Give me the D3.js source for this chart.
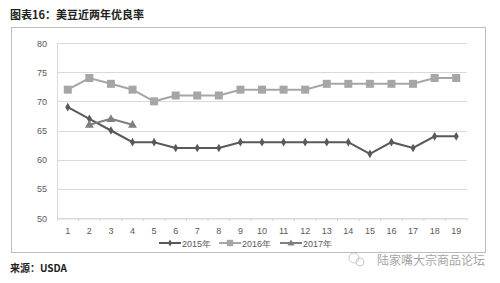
<!DOCTYPE html>
<html>
<head>
<meta charset="utf-8">
<style>
  body { margin: 0; background: #fff; }
  svg { display: block; font-family: "Liberation Sans", Arial, sans-serif; }
  .grid line { stroke: #d9d9d9; stroke-width: 1px; }
</style>
</head>
<body>
<script src="https://d3js.org/d3.v7.min.js"></script>
<script>
// weeks along the x axis
const weeks = d3.range(1, 20);
const yTicks = [50, 55, 60, 65, 70, 75, 80];

const y2015 = [69, 67, 65, 63, 63, 62, 62, 62, 63, 63, 63, 63, 63, 63, 61, 63, 62, 64, 64];
const y2016 = [72, 74, 73, 72, 70, 71, 71, 71, 72, 72, 72, 72, 73, 73, 73, 73, 73, 74, 74];
const y2017 = [null, 66, 67, 66];

const seriesNames = ["2015年", "2016年", "2017年"];

const width = 500, height = 283;
const svg = d3.select("body").append("svg")
    .attr("width", width).attr("height", height);

// title
svg.append("text")
    .attr("x", 10).attr("y", 19)
    .attr("font-family", "'Noto Sans CJK SC', sans-serif")
    .attr("font-weight", "bold")
    .attr("font-size", 11)
    .attr("fill", "#222")
    .text("图表16：美豆近两年优良率");

// chart frame
svg.append("rect")
    .attr("x", 11.5).attr("y", 27.5)
    .attr("width", 474).attr("height", 225)
    .attr("fill", "none").attr("stroke", "#bdbdbd");

const x = d3.scaleBand().domain(weeks).range([57, 467]);
const y = d3.scaleLinear().domain([50, 80]).range([218, 43]);
const cx = d => x(d) + x.bandwidth() / 2;

// gridlines
svg.append("g").attr("class", "grid")
    .selectAll("line").data(yTicks).join("line")
    .attr("x1", 57).attr("x2", 467)
    .attr("y1", d => Math.round(y(d)) + 0.5).attr("y2", d => Math.round(y(d)) + 0.5);

// y axis labels
svg.append("g").selectAll("text").data(yTicks).join("text")
    .attr("x", 47).attr("y", d => y(d) + 3.5)
    .attr("text-anchor", "end")
    .attr("font-size", 9).attr("fill", "#595959")
    .text(d => d);

// x axis
const xAxis = svg.append("g").attr("transform", `translate(0,${Math.round(y(50)) + 0.5})`)
    .call(d3.axisBottom(x).tickSize(3).tickSizeOuter(0));
xAxis.select(".domain").attr("stroke", "#d9d9d9");
xAxis.selectAll(".tick line").attr("stroke", "#d9d9d9")
    .attr("transform", `translate(${x.bandwidth() / 2},0)`);
xAxis.selectAll(".tick text").attr("font-size", 9).attr("fill", "#595959")
    .attr("dy", "1.1em").attr("font-family", "'Liberation Sans', Arial, sans-serif");
// left vertical axis
svg.append("line").attr("x1", 57.5).attr("x2", 57.5)
    .attr("y1", y(80)).attr("y2", y(50) + 3).attr("stroke", "#d9d9d9");

const line = d3.line()
    .defined(d => d[1] != null)
    .x(d => cx(d[0])).y(d => y(d[1]));

const colors = ["#595959", "#a6a6a6", "#7f7f7f"];
const allSeries = [y2016, y2015, y2017];
const colorOf = [colors[1], colors[0], colors[2]];
const markOf = ["square", "diamond", "triangle"];

function marker(g, type, color, px, py, s = 1) {
  if (type === "square") {
    g.append("rect").attr("x", px - 4 * s).attr("y", py - 4 * s)
      .attr("width", 8 * s).attr("height", 8 * s).attr("fill", color);
  } else if (type === "diamond") {
    g.append("path").attr("d", d3.symbol(d3.symbolDiamond, 22 * s * s)())
      .attr("transform", `translate(${px},${py})`).attr("fill", color);
  } else {
    g.append("path").attr("d", d3.symbol(d3.symbolTriangle, 34 * s * s)())
      .attr("transform", `translate(${px},${py + 0.5})`).attr("fill", color);
  }
}

allSeries.forEach((vals, i) => {
  const pts = vals.map((v, j) => [weeks[j], v]);
  const g = svg.append("g");
  g.append("path").datum(pts).attr("d", line)
    .attr("fill", "none").attr("stroke", colorOf[i]).attr("stroke-width", 2);
  pts.filter(d => d[1] != null).forEach(d => marker(g, markOf[i], colorOf[i], cx(d[0]), y(d[1])));
});

// legend
const legendItems = [
  { name: seriesNames[0], color: colors[0], mark: "diamond", x: 159 },
  { name: seriesNames[1], color: colors[1], mark: "square", x: 219 },
  { name: seriesNames[2], color: colors[2], mark: "triangle", x: 280 }
];
legendItems.forEach(it => {
  const g = svg.append("g");
  g.append("line").attr("x1", it.x).attr("x2", it.x + 22)
    .attr("y1", 243).attr("y2", 243).attr("stroke", it.color).attr("stroke-width", 2);
  marker(g, it.mark, it.color, it.x + 11, 243, 0.8);
  g.append("text").attr("x", it.x + 23).attr("y", 246.5)
    .attr("font-size", 9).attr("fill", "#595959").text(it.name);
});

// source
svg.append("text")
    .attr("x", 10).attr("y", 272)
    .attr("font-family", "'Noto Sans CJK SC', sans-serif")
    .attr("font-weight", "bold").attr("font-size", 10).attr("fill", "#222")
    .text("来源：USDA");

// watermark
const wm = svg.append("g").attr("opacity", 0.75);
wm.append("circle").attr("cx", 354).attr("cy", 258).attr("r", 5)
    .attr("fill", "none").attr("stroke", "#bbb");
wm.append("circle").attr("cx", 360).attr("cy", 262).attr("r", 4)
    .attr("fill", "none").attr("stroke", "#bbb");
wm.append("text").attr("x", 377).attr("y", 265)
    .attr("font-family", "'Noto Sans CJK SC', sans-serif")
    .attr("font-size", 12).attr("fill", "#888")
    .text("陆家嘴大宗商品论坛");
</script>
</body>
</html>
